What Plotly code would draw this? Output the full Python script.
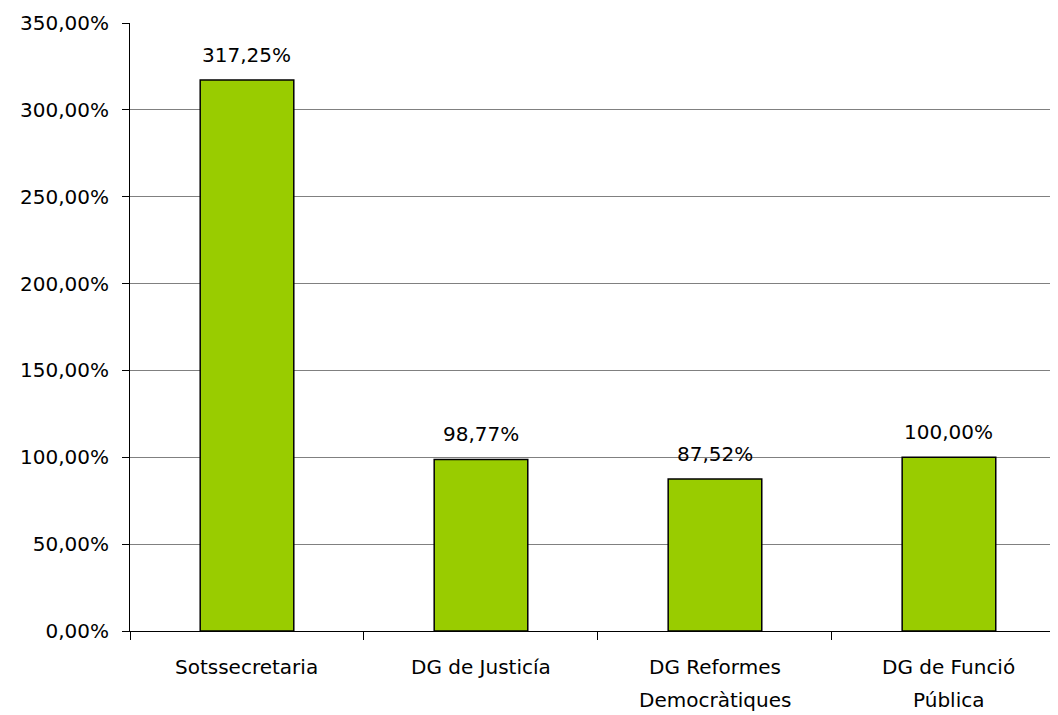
import plotly.graph_objects as go

categories = ["Sotssecretaria", "DG de Justicía", "DG Reformes<br>Democràtiques", "DG de Funció<br>Pública"]
values = [317.25, 98.77, 87.52, 100.00]
y_ticks = [0, 50, 100, 150, 200, 250, 300, 350]

labels = [f"{v:.2f}%".replace(".", ",") for v in values]
y_ticktext = [f"{v:.2f}%".replace(".", ",") for v in y_ticks]

fig = go.Figure()
fig.add_trace(go.Bar(x=categories, y=values, width=0.4,
                     marker=dict(color="#99CC00", line=dict(color="black", width=1.5)),
                     hoverinfo="skip"))

# value labels above the bars
for c, v, t in zip(categories, values, labels):
    fig.add_annotation(x=c, y=v, text=t, showarrow=False, yshift=25,
                       font=dict(size=20, color="black"))

# category labels, one annotation per line so the line spacing matches
for c in categories:
    for i, line in enumerate(c.split("<br>")):
        fig.add_annotation(x=c, y=0, yref="paper", yanchor="middle", text=line,
                           showarrow=False, yshift=-36 - 33 * i,
                           font=dict(size=20, color="black"))

fig.update_layout(
    width=1050, height=707,
    margin=dict(l=122, r=0, t=15, b=84),
    paper_bgcolor="white", plot_bgcolor="white",
    font=dict(family="DejaVu Sans, Arial, sans-serif", size=20, color="black"),
    showlegend=False,
)
fig.update_xaxes(range=[-0.5, 3.466], tickson="boundaries", ticks="outside", ticklen=8,
                 tickcolor="black", showline=True, linecolor="black", linewidth=1,
                 showgrid=False, showticklabels=False)
fig.update_yaxes(range=[0, 350], tickvals=y_ticks, ticktext=y_ticktext, ticks="outside",
                 ticklen=7, tickcolor="black", showline=True, linecolor="black", linewidth=1,
                 showgrid=True, gridcolor="#808080", gridwidth=1, zeroline=False,
                 ticklabelstandoff=9)

fig.write_html("out.html")
